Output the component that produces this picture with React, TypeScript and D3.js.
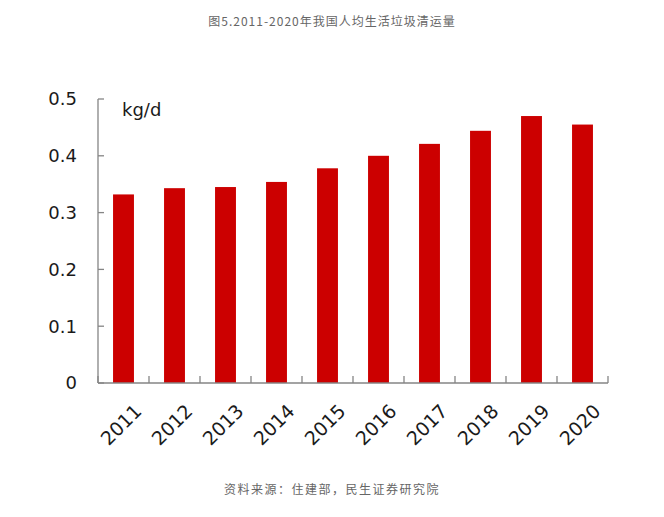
import React, { useEffect, useRef } from 'react';
import * as d3 from 'd3';

const years = ['2011', '2012', '2013', '2014', '2015', '2016', '2017', '2018', '2019', '2020'];
const perCapita = [0.332, 0.343, 0.345, 0.354, 0.378, 0.4, 0.421, 0.444, 0.47, 0.455];
const yTicks = [0, 0.1, 0.2, 0.3, 0.4, 0.5];

const titleText = '图5.2011-2020年我国人均生活垃圾清运量';
const sourceText = '资料来源：住建部，民生证券研究院';
const unitText = 'kg/d';

export default function App() {
  const svgRef = useRef<SVGSVGElement | null>(null);
  const width = 664;
  const height = 517;

  useEffect(() => {
    const svg = d3.select(svgRef.current!);
    svg.selectAll('*').remove();
    const margin = { top: 99, right: 56, bottom: 134, left: 98 };

    const x = d3
      .scaleBand<string>()
      .domain(years)
      .range([margin.left, width - margin.right])
      .paddingInner(0.59)
      .paddingOuter(0.295);
    const y = d3
      .scaleLinear()
      .domain([0, 0.5])
      .range([height - margin.bottom, margin.top]);

    const axisColor = '#858585';
    const step = x.step();
    const x0 = margin.left;

    // bars
    svg
      .append('g')
      .selectAll('rect')
      .data(years)
      .join('rect')
      .attr('x', (d) => x(d)!)
      .attr('y', (_, i) => y(perCapita[i]))
      .attr('width', x.bandwidth())
      .attr('height', (_, i) => y(0) - y(perCapita[i]))
      .attr('fill', '#cc0000');

    // y axis
    const yAxis = svg.append('g');
    yAxis
      .append('line')
      .attr('x1', x0)
      .attr('x2', x0)
      .attr('y1', y(0.5))
      .attr('y2', y(0))
      .attr('stroke', axisColor)
      .attr('stroke-width', 1.3);
    yAxis
      .selectAll('line.tick')
      .data(yTicks)
      .join('line')
      .attr('class', 'tick')
      .attr('x1', x0)
      .attr('x2', x0 + 6)
      .attr('y1', (d) => y(d))
      .attr('y2', (d) => y(d))
      .attr('stroke', axisColor)
      .attr('stroke-width', 1.3);
    yAxis
      .selectAll('text')
      .data(yTicks)
      .join('text')
      .attr('x', 77)
      .attr('y', (d) => y(d))
      .attr('dy', '0.36em')
      .attr('text-anchor', 'end')
      .attr('font-family', 'DejaVu Sans, Verdana, sans-serif')
      .attr('font-size', 18)
      .attr('fill', '#1a1a1a')
      .text((d) => (d === 0 ? '0' : d3.format('.1f')(d)));

    // x axis
    const xAxis = svg.append('g');
    xAxis
      .append('line')
      .attr('x1', x0)
      .attr('x2', width - margin.right)
      .attr('y1', y(0))
      .attr('y2', y(0))
      .attr('stroke', axisColor)
      .attr('stroke-width', 1.3);
    xAxis
      .selectAll('line.tick')
      .data(d3.range(years.length + 1))
      .join('line')
      .attr('class', 'tick')
      .attr('x1', (i) => x0 + i * step)
      .attr('x2', (i) => x0 + i * step)
      .attr('y1', y(0))
      .attr('y2', y(0) - 7)
      .attr('stroke', axisColor)
      .attr('stroke-width', 1.3);
    xAxis
      .selectAll('text')
      .data(years)
      .join('text')
      .attr(
        'transform',
        (d) => `translate(${x(d)! + x.bandwidth() / 2 + 10},${y(0) + 20}) rotate(-45)`
      )
      .attr('text-anchor', 'end')
      .attr('dy', '0.7em')
      .attr('font-family', 'DejaVu Sans, Verdana, sans-serif')
      .attr('font-size', 19)
      .attr('fill', '#1a1a1a')
      .text((d) => d);

    // unit
    svg
      .append('text')
      .attr('x', 122)
      .attr('y', 116)
      .attr('font-family', 'DejaVu Sans, Verdana, sans-serif')
      .attr('font-size', 18)
      .attr('fill', '#1a1a1a')
      .text(unitText);

    // title & source
    svg
      .append('text')
      .attr('x', width / 2)
      .attr('y', 26)
      .attr('text-anchor', 'middle')
      .attr('font-family', 'Noto Sans CJK SC, sans-serif')
      .attr('font-size', 12)
      .attr('letter-spacing', 1)
      .attr('fill', '#666')
      .text(titleText);
    svg
      .append('text')
      .attr('x', width / 2)
      .attr('y', 494)
      .attr('text-anchor', 'middle')
      .attr('font-family', 'Noto Sans CJK SC, sans-serif')
      .attr('font-size', 12)
      .attr('letter-spacing', 1.5)
      .attr('fill', '#666')
      .text(sourceText);
  }, []);

  return (
    <div style={{ position: 'absolute', left: 0, top: 0 }}>
      <svg ref={svgRef} width={width} height={height} style={{ display: 'block', background: '#fff' }} />
    </div>
  );
}
